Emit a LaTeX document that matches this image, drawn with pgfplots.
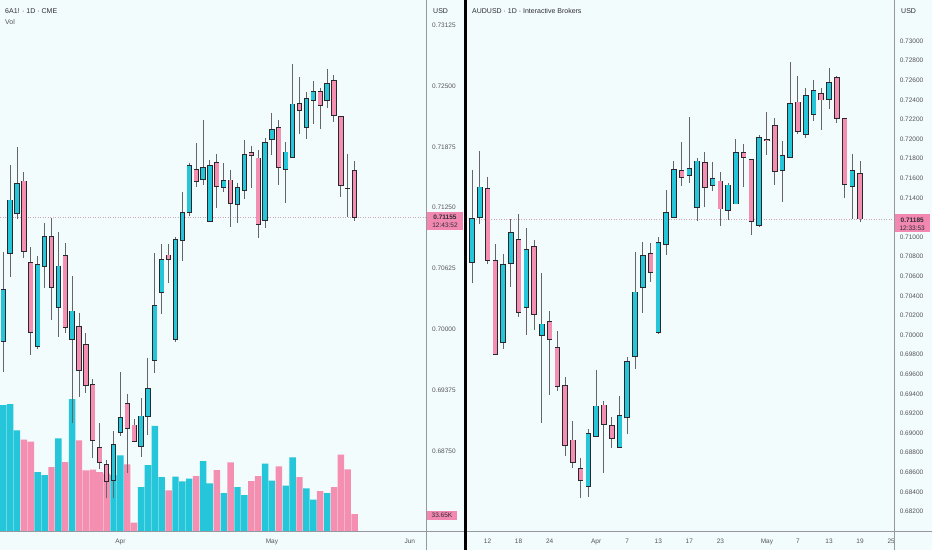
\documentclass[border=0pt]{standalone}
\usepackage{pgfplots}
\pgfplotsset{compat=1.18}
\usepackage{pgfplotstable}
\usepackage{fontspec}
\setmainfont{Liberation Sans}

\definecolor{bgc}{RGB}{243,252,252}
\definecolor{upc}{RGB}{38,198,218}
\definecolor{dnc}{RGB}{244,143,177}
\definecolor{borderc}{RGB}{40,40,45}
\definecolor{wickc}{RGB}{100,100,105}
\definecolor{tickc}{RGB}{85,85,90}
\definecolor{hdc}{RGB}{45,45,55}
\definecolor{axc}{RGB}{150,152,160}
\definecolor{lblc}{RGB}{242,135,175}
\definecolor{pricec}{RGB}{205,165,180}

\pgfplotstableread{
i o h l c v
-17 0.69874 0.70798 0.69566 0.70412 240.9
-16 0.70781 0.71688 0.70541 0.71328 242.8
-15 0.71192 0.71876 0.71130 0.71500 192.7
-14 0.71523 0.71613 0.70730 0.70797 175.0
-13 0.70685 0.70849 0.69737 0.69966 171.2
-12 0.69829 0.70753 0.69795 0.70668 113.5
-11 0.70651 0.71095 0.70422 0.70952 107.8
-10 0.70952 0.71140 0.70096 0.70432 123.0
-9 0.70223 0.71003 0.69919 0.70651 177.5
-8 0.70756 0.70890 0.69966 0.70017 132.5
-7 0.69901 0.70551 0.69036 0.70189 252.3
-6 0.70028 0.70165 0.69309 0.69583 173.7
-5 0.69843 0.69960 0.69350 0.69429 116.7
-4 0.69436 0.69487 0.68676 0.68857 117.9
-3 0.68789 0.69042 0.68563 0.68638 113.5
-2 0.68615 0.68659 0.68266 0.68440 110.3
-1 0.68446 0.68960 0.68266 0.68820 107.8
0 0.68943 0.69566 0.68905 0.69093 145.2
1 0.69241 0.69333 0.68529 0.68984 128.1
2 0.69018 0.69077 0.68847 0.68847 17.1
3 0.68803 0.69298 0.68693 0.69111 85.0
4 0.69103 0.69713 0.68916 0.69395 126.8
5 0.69678 0.70781 0.69555 0.70250 201.0
6 0.70377 0.70877 0.70158 0.70720 104.0
7 0.70764 0.70877 0.70473 0.70720 78.6
8 0.69898 0.70952 0.69874 0.70925 104.6
9 0.70918 0.71414 0.70705 0.71202 95.7
10 0.71205 0.71713 0.71161 0.71685 100.8
11 0.71643 0.71910 0.71465 0.71516 105.9
12 0.71544 0.72150 0.71482 0.71664 134.4
13 0.71113 0.71736 0.71106 0.71681 91.9
14 0.71715 0.71798 0.71243 0.71465 117.3
15 0.71459 0.71705 0.71414 0.71534 73.5
16 0.71534 0.71636 0.71054 0.71294 131.9
17 0.71284 0.71500 0.71099 0.71459 85.0
18 0.71424 0.71944 0.71339 0.71801 69.7
19 0.71814 0.71886 0.71455 0.71783 96.4
20 0.71760 0.71842 0.70935 0.71079 105.9
21 0.71116 0.71968 0.71044 0.71921 129.3
22 0.71952 0.72225 0.71790 0.72050 97.0
23 0.72075 0.72150 0.71482 0.71664 124.3
24 0.71643 0.71921 0.71301 0.71821 87.5
25 0.71763 0.72725 0.71756 0.72314 141.4
26 0.72321 0.72588 0.72003 0.72249 104.0
27 0.72075 0.72440 0.71955 0.72372 82.4
28 0.72348 0.72550 0.72109 0.72447 60.9
29 0.72447 0.72481 0.72057 0.72304 77.3
30 0.72348 0.72673 0.72276 0.72526 73.5
31 0.72553 0.72612 0.72132 0.72201 85.0
32 0.72184 0.72184 0.71362 0.71482 146.5
33 0.71450 0.71801 0.71151 0.71448 118.6
34 0.71636 0.71729 0.71116 0.71155 33.65
}\Ldata

\pgfplotstableread{
i o h l c
-16 0.70738 0.71684 0.70534 0.71191
-15 0.71197 0.71878 0.71133 0.71510
-14 0.71497 0.71609 0.70725 0.70758
-13 0.70762 0.70926 0.69796 0.69806
-12 0.69929 0.70824 0.69860 0.70717
-11 0.70732 0.71184 0.70493 0.71048
-10 0.70977 0.71235 0.70187 0.70228
-9 0.70279 0.71089 0.70000 0.70871
-8 0.70908 0.70969 0.70051 0.70211
-7 0.69993 0.70630 0.69105 0.70112
-6 0.70140 0.70248 0.69388 0.69956
-5 0.69871 0.70041 0.69432 0.69473
-4 0.69487 0.69568 0.68765 0.68871
-3 0.68929 0.69126 0.68640 0.68704
-2 0.68640 0.68742 0.68340 0.68513
-1 0.68459 0.69038 0.68344 0.68997
0 0.68970 0.69643 0.68970 0.69276
1 0.69286 0.69327 0.68595 0.69092
2 0.69075 0.69166 0.68844 0.68946
3 0.68854 0.69381 0.68854 0.69174
4 0.69160 0.69779 0.68987 0.69732
5 0.69783 0.70850 0.69653 0.70439
6 0.70487 0.70952 0.70228 0.70813
7 0.70834 0.70936 0.70544 0.70643
8 0.70028 0.71003 0.70010 0.70946
9 0.70926 0.71480 0.70816 0.71252
10 0.71201 0.71776 0.71191 0.71694
11 0.71681 0.71973 0.71524 0.71612
12 0.71633 0.72222 0.71548 0.71701
13 0.71299 0.71803 0.71166 0.71776
14 0.71762 0.71864 0.71309 0.71510
15 0.71524 0.71762 0.71469 0.71599
16 0.71571 0.71666 0.71112 0.71286
17 0.71268 0.71548 0.71174 0.71531
18 0.71337 0.72000 0.71337 0.71864
19 0.71864 0.71946 0.71513 0.71809
20 0.71796 0.71796 0.71021 0.71163
21 0.71123 0.72041 0.71105 0.72013
22 0.71990 0.72279 0.71837 0.71980
23 0.72136 0.72211 0.71531 0.71666
24 0.71681 0.71980 0.71360 0.71830
25 0.71813 0.72783 0.71803 0.72364
26 0.72378 0.72646 0.72048 0.72082
27 0.72051 0.72517 0.72007 0.72446
28 0.72252 0.72602 0.72187 0.72493
29 0.72466 0.72524 0.72092 0.72398
30 0.72405 0.72722 0.72306 0.72579
31 0.72626 0.72646 0.72160 0.72211
32 0.72211 0.72217 0.71401 0.71538
33 0.71513 0.71847 0.71184 0.71677
34 0.71646 0.71776 0.71156 0.71185
}\Rdata

\pgfplotsset{
  tvaxis/.style={
    scale only axis, anchor=south west, height=531.7pt,
    axis line style={draw=none}, major tick length=0pt,
    axis x line*=bottom, axis y line*=right,
    yticklabel style={anchor=west, inner sep=0pt, xshift=5.3pt,
      font=\fontsize{6.5}{7}\selectfont, text=tickc},
    xticklabel style={anchor=base, inner sep=0pt, yshift=-11.8pt,
      font=\fontsize{6.5}{7}\selectfont, text=tickc},
    clip=true,
  },
  wick/.style={draw=none, mark=none, forget plot,
    error bars/.cd, y dir=both, y explicit, error mark=none,
    error bar style={draw=wickc, line width=1pt}},
  body/.style 2 args={draw=none, mark=none, forget plot, restrict y to domain=0:2,
    error bars/.cd, y dir=both, y explicit, error mark=none,
    error bar style={draw=#1, line width=#2}},
}

\begin{document}
\begin{tikzpicture}[x=1pt,y=1pt]
\fill[bgc] (0,0) rectangle (932,550);

% ---------- left volume ----------
\begin{axis}[at={(0pt,18.3pt)}, anchor=south west, scale only axis,
  width=426.7pt, height=531.7pt, xmin=-17.47, xmax=44.46, ymin=0, ymax=1011, hide axis]
\addplot[ybar, bar width=0.93, bar shift=0pt, fill=upc, draw=none, restrict y to domain=0:2000]
  table[x=i, y expr={ifthenelse(\thisrow{o}>\thisrow{c},-5,\thisrow{v})}] {\Ldata};
\addplot[ybar, bar width=0.93, bar shift=0pt, fill=dnc, draw=none, restrict y to domain=0:2000]
  table[x=i, y expr={ifthenelse(\thisrow{o}>\thisrow{c},\thisrow{v},-5)}] {\Ldata};
\end{axis}

% ---------- left candles (6A1!) ----------
\begin{axis}[tvaxis, at={(0pt,18.3pt)}, width=426.7pt,
  xmin=-17.47, xmax=44.46, ymin=0.67923, ymax=0.73382,
  ytick={0.6875,0.69375,0.7,0.70625,0.7125,0.71875,0.725,0.73125},
  yticklabels={0.68750,0.69375,0.70000,0.70625,0.71250,0.71875,0.72500,0.73125},
  xtick={0,22,42}, xticklabels={Apr,May,Jun}]
\addplot[pricec, line width=0.6pt, dash pattern=on 1pt off 1.5pt, forget plot]
  coordinates {(-20,0.71155) (50,0.71155)};
\addplot[wick] table[x=i, y expr={(\thisrow{h}+\thisrow{l})/2},
  y error expr={(\thisrow{h}-\thisrow{l})/2}] {\Ldata};
\addplot[body={borderc}{5.3pt}] table[x=i,
  y expr={ifthenelse(\thisrow{o}>\thisrow{c},5,(\thisrow{o}+\thisrow{c})/2)},
  y error expr={abs(\thisrow{c}-\thisrow{o})/2+0.00005}] {\Ldata};
\addplot[body={upc}{3.7pt}] table[x=i,
  y expr={ifthenelse(\thisrow{o}>\thisrow{c},5,(\thisrow{o}+\thisrow{c})/2)},
  y error expr={max(abs(\thisrow{c}-\thisrow{o})/2-0.00004,0)}] {\Ldata};
\addplot[body={borderc}{5.3pt}] table[x=i,
  y expr={ifthenelse(\thisrow{o}>\thisrow{c},(\thisrow{o}+\thisrow{c})/2,5)},
  y error expr={abs(\thisrow{c}-\thisrow{o})/2+0.00005}] {\Ldata};
\addplot[body={dnc}{3.7pt}] table[x=i,
  y expr={ifthenelse(\thisrow{o}>\thisrow{c},(\thisrow{o}+\thisrow{c})/2,5)},
  y error expr={max(abs(\thisrow{c}-\thisrow{o})/2-0.00004,0)}] {\Ldata};
\end{axis}

% ---------- right candles (AUDUSD) ----------
\begin{axis}[tvaxis, at={(467pt,18.3pt)}, width=427.3pt,
  xmin=-16.65, xmax=38.41, ymin=0.67993, ymax=0.73418,
  ytick={0.682,0.684,0.686,0.688,0.690,0.692,0.694,0.696,0.698,0.700,0.702,0.704,0.706,0.708,0.710,0.714,0.716,0.718,0.720,0.722,0.724,0.726,0.728,0.730},
  yticklabels={0.68200,0.68400,0.68600,0.68800,0.69000,0.69200,0.69400,0.69600,0.69800,0.70000,0.70200,0.70400,0.70600,0.70800,0.71000,0.71400,0.71600,0.71800,0.72000,0.72200,0.72400,0.72600,0.72800,0.73000},
  xtick={-14,-10,-6,0,4,8,12,16,22,26,30,34,38},
  xticklabels={12,18,24,Apr,7,13,17,23,May,7,13,19,25}]
\addplot[pricec, line width=0.6pt, dash pattern=on 1pt off 1.5pt, forget plot]
  coordinates {(-20,0.71185) (50,0.71185)};
\addplot[wick] table[x=i, y expr={(\thisrow{h}+\thisrow{l})/2},
  y error expr={(\thisrow{h}-\thisrow{l})/2}] {\Rdata};
\addplot[body={borderc}{5.6pt}] table[x=i,
  y expr={ifthenelse(\thisrow{o}>\thisrow{c},5,(\thisrow{o}+\thisrow{c})/2)},
  y error expr={abs(\thisrow{c}-\thisrow{o})/2+0.00005}] {\Rdata};
\addplot[body={upc}{4.0pt}] table[x=i,
  y expr={ifthenelse(\thisrow{o}>\thisrow{c},5,(\thisrow{o}+\thisrow{c})/2)},
  y error expr={max(abs(\thisrow{c}-\thisrow{o})/2-0.00004,0)}] {\Rdata};
\addplot[body={borderc}{5.6pt}] table[x=i,
  y expr={ifthenelse(\thisrow{o}>\thisrow{c},(\thisrow{o}+\thisrow{c})/2,5)},
  y error expr={abs(\thisrow{c}-\thisrow{o})/2+0.00005}] {\Rdata};
\addplot[body={dnc}{4.0pt}] table[x=i,
  y expr={ifthenelse(\thisrow{o}>\thisrow{c},(\thisrow{o}+\thisrow{c})/2,5)},
  y error expr={max(abs(\thisrow{c}-\thisrow{o})/2-0.00004,0)}] {\Rdata};
\end{axis}

% ---------- frame lines ----------
\draw[axc, line width=0.8pt] (426.7,0) -- (426.7,550);
\draw[axc, line width=0.8pt] (894.3,0) -- (894.3,550);
\draw[axc, line width=0.8pt] (0,18.3) -- (932,18.3);
\fill[black] (464.2,0) rectangle (466.8,550);

% ---------- headers ----------
\node[anchor=west, inner sep=0pt, text=hdc, font=\fontsize{7}{8}\selectfont] at (5,539) {6A1! · 1D · CME};
\node[anchor=west, inner sep=0pt, text=tickc, font=\fontsize{7}{8}\selectfont] at (5,528) {Vol};
\node[anchor=west, inner sep=0pt, text=hdc, font=\fontsize{7}{8}\selectfont] at (433,539) {USD};
\node[anchor=west, inner sep=0pt, text=hdc, font=\fontsize{7}{8}\selectfont] at (472,539) {AUDUSD · 1D · Interactive Brokers};
\node[anchor=west, inner sep=0pt, text=hdc, font=\fontsize{7}{8}\selectfont] at (901,539) {USD};

% ---------- price labels ----------
\fill[lblc] (427.3,320) rectangle (462.7,338.3);
\node[inner sep=0pt, text=hdc, font=\bfseries\fontsize{6.5}{7}\selectfont] at (445,332.3) {0.71155};
\node[inner sep=0pt, text=hdc, font=\fontsize{6.5}{7}\selectfont] at (445,324.3) {12:43:52};
\fill[lblc] (895,317.7) rectangle (929.5,336);
\node[inner sep=0pt, text=hdc, font=\bfseries\fontsize{6.5}{7}\selectfont] at (912.2,329.8) {0.71185};
\node[inner sep=0pt, text=hdc, font=\fontsize{6.5}{7}\selectfont] at (912.2,321.8) {12:33:53};
\fill[lblc] (426.7,30.5) rectangle (457.3,39.5);
\node[inner sep=0pt, text=hdc, font=\fontsize{6.5}{7}\selectfont] at (442,35) {33.65K};

\pgfresetboundingbox
\useasboundingbox (0,0) rectangle (932,550);
\end{tikzpicture}
\end{document}
